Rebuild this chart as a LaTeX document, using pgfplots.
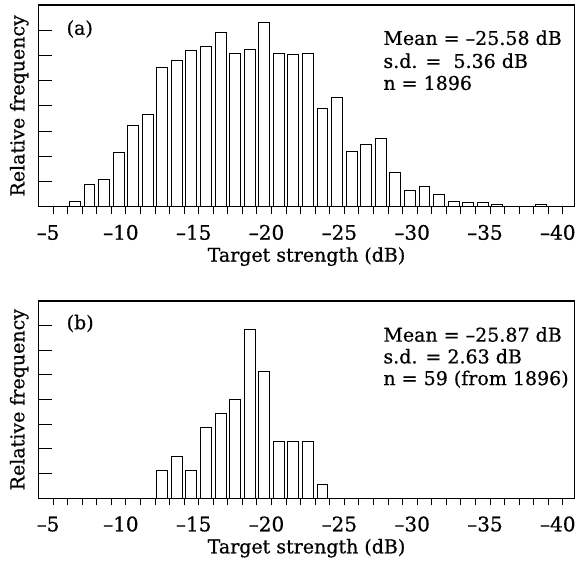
\documentclass[border=0pt]{standalone}
\usepackage{fontspec}
\setmainfont{DejaVu Serif}[FakeBold=0.6]
\usepackage{pgfplots}
\usepackage{pgfplotstable}
\pgfplotsset{compat=1.18}

% relative frequency of target strength, all fish
\pgfplotstableread{
ts    f
-6.5  0.19
-7.5  0.89
-8.5  1.09
-9.5  2.13
-10.5 3.21
-11.5 3.64
-12.5 5.51
-13.5 5.79
-14.5 6.20
-15.5 6.36
-16.5 6.89
-17.5 6.09
-18.5 6.25
-19.5 7.29
-20.5 6.09
-21.5 6.05
-22.5 6.08
-23.5 3.91
-24.5 4.32
-25.5 2.20
-26.5 2.47
-27.5 2.69
-28.5 1.36
-29.5 0.63
-30.5 0.79
-31.5 0.48
-32.5 0.20
-33.5 0.15
-34.5 0.15
-35.5 0.09
-38.5 0.09
}\tsall

% subset, n = 59
\pgfplotstableread{
ts    f
-12.5 1.14
-13.5 1.71
-14.5 1.14
-15.5 2.86
-16.5 3.43
-17.5 4.00
-18.5 6.86
-19.5 5.14
-20.5 2.29
-21.5 2.29
-22.5 2.29
-23.5 0.57
}\tssub

\newcommand{\lbl}{\fontsize{19}{23}\selectfont}

\pgfplotsset{
  hist/.style={
    scale only axis, width=536pt,
    x dir=reverse, xmin=-40.8, xmax=-4, ymin=0, ymax=8,
    xtick={-40,-35,...,-5},
    xticklabels={\llap{–}40,\llap{–}35,\llap{–}30,\llap{–}25,\llap{–}20,\llap{–}15,\llap{–}10,\llap{–}5},
    minor x tick num=4,
    ytick={1,...,7}, yticklabels={},
    xtick pos=bottom, ytick pos=left,
    major tick length=7pt, minor tick length=7pt,
    y tick style={/pgfplots/major tick length=14pt},
    tick style={black, line width=1pt},
    axis line style={line width=1.2pt},
    ybar, bar width=0.75,
    axis on top,
    xticklabel style={font=\fontsize{20}{24}\selectfont, anchor=base, yshift=-26pt},
    xlabel={Target strength (dB)},
    xlabel style={at={(axis description cs:0.5,0)}, anchor=base, yshift=-55pt, font=\lbl},
    ylabel={Relative frequency},
    ylabel style={at={(axis description cs:-0.036,0.5)}, anchor=center, font=\lbl},
  },
  bars/.style={fill=white, draw=black, line width=1pt},
}

\begin{document}
\begin{tikzpicture}
\useasboundingbox (0,0) rectangle (576pt,562pt);

\begin{axis}[hist, height=201.7pt, at={(38.5pt,355.3pt)}, anchor=south west]
\addplot[bars] table[x=ts, y=f] {\tsall};
\node[font=\lbl, anchor=west] at (axis description cs:0.046,0.881) {(a)};
\node[font=\lbl, anchor=base west] at (axis description cs:0.637,0.802) {Mean = –25.58 dB};
\node[font=\lbl, anchor=base west] at (axis description cs:0.637,0.688) {s.d. =\ \ 5.36 dB};
\node[font=\lbl, anchor=base west] at (axis description cs:0.637,0.579) {n = 1896};
\end{axis}

\begin{axis}[hist, height=197.3pt, at={(38.5pt,63.7pt)}, anchor=south west]
\addplot[bars] table[x=ts, y=f] {\tssub};
\node[font=\lbl, anchor=west] at (axis description cs:0.046,0.886) {(b)};
\node[font=\lbl, anchor=base west] at (axis description cs:0.637,0.794) {Mean = –25.87 dB};
\node[font=\lbl, anchor=base west] at (axis description cs:0.637,0.684) {s.d. = 2.63 dB};
\node[font=\lbl, anchor=base west] at (axis description cs:0.637,0.574) {n = 59 (from 1896)};
\end{axis}
\end{tikzpicture}
\end{document}
